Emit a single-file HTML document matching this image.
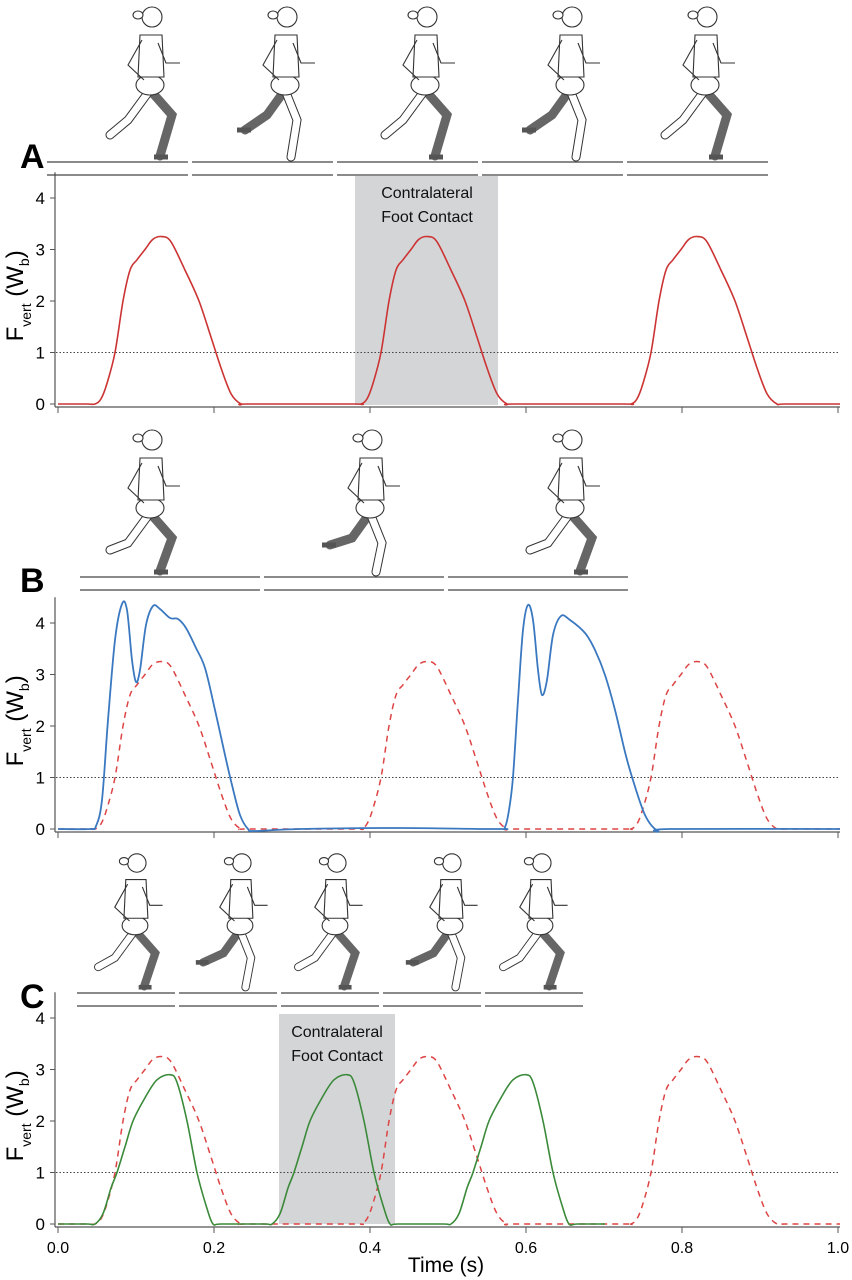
<!DOCTYPE html>
<html><head><meta charset="utf-8"><style>
body{margin:0;background:#fff}
svg{display:block;font-family:"Liberation Sans",Arial,sans-serif}
</style></head><body>
<svg id="s" width="852" height="1280" viewBox="0 0 852 1280">
<rect width="852" height="1280" fill="#fff"/>
<rect x="355" y="176" width="143" height="229" fill="#d4d5d7"/>
<rect x="279" y="1014" width="116" height="210" fill="#d4d5d7"/>
<text x="427" y="198" font-size="16" text-anchor="middle" fill="#111">Contralateral</text>
<text x="427" y="222" font-size="16" text-anchor="middle" fill="#111">Foot Contact</text>
<text x="337" y="1037" font-size="16" text-anchor="middle" fill="#111">Contralateral</text>
<text x="337" y="1061" font-size="16" text-anchor="middle" fill="#111">Foot Contact</text>
<text x="20" y="168" font-size="34" font-weight="bold">A</text>
<text x="20" y="592" font-size="34" font-weight="bold">B</text>
<text x="20" y="1008" font-size="34" font-weight="bold">C</text>
<g id="g"></g>
<text x="446" y="1272" font-size="21" text-anchor="middle">Time (s)</text>
</svg>
<script>
var g=document.getElementById('g'),h='';
function cr(p){var d='M'+p[0][0]+','+p[0][1];for(var i=0;i<p.length-1;i++){var a=p[i-1]||p[i],b=p[i],c=p[i+1],e=p[i+2]||c;
d+=' C'+(b[0]+(c[0]-a[0])/6).toFixed(1)+','+(b[1]+(c[1]-a[1])/6).toFixed(1)+' '+(c[0]-(e[0]-b[0])/6).toFixed(1)+','+(c[1]-(e[1]-b[1])/6).toFixed(1)+' '+c[0]+','+c[1];}return d;}
var X=function(t){return 58+780*t};
var panels=[{y0:404},{y0:829},{y0:1224}];
var U=51.5;
panels.forEach(function(P,k){
 var y0=P.y0;
 h+='<line x1="55" y1="'+(y0-4.5*U)+'" x2="55" y2="'+(y0+3)+'" stroke="#555" stroke-width="1.2"/>';
 h+='<line x1="55" y1="'+(y0+3)+'" x2="840" y2="'+(y0+3)+'" stroke="#555" stroke-width="1.2"/>';
 for(var v=0;v<=4;v++){var yy=y0-v*U;h+='<line x1="50" y1="'+yy+'" x2="55" y2="'+yy+'" stroke="#555"/><text x="45" y="'+(yy+6)+'" font-size="17" text-anchor="end">'+v+'</text>';}
 for(var t=0;t<=5;t++){var xx=X(t*0.2);h+='<line x1="'+xx+'" y1="'+(y0+3)+'" x2="'+xx+'" y2="'+(y0+9)+'" stroke="#555"/>';
  if(k==2)h+='<text x="'+xx+'" y="'+(y0+29)+'" font-size="16" text-anchor="middle">'+(t*0.2).toFixed(1)+'</text>';}
 h+='<line x1="56" y1="'+(y0-U)+'" x2="840" y2="'+(y0-U)+'" stroke="#444" stroke-width="1" stroke-dasharray="1.5,2"/>';
 var cy=y0-2.1*U;
 h+='<text transform="translate(23,'+cy+') rotate(-90)" font-size="24" text-anchor="middle">F<tspan font-size="14" dy="8">vert</tspan><tspan dy="-8"> (W</tspan><tspan font-size="14" dy="6">b</tspan><tspan dy="-6">)</tspan></text>';
});
var red=[[0,0],[6,0.1],[12,0.4],[20,1.0],[28,2.0],[35,2.6],[42,2.8],[50,3.0],[58,3.2],[67,3.25],[76,3.15],[90,2.6],[104,2.0],[116,1.3],[126,0.7],[136,0.2],[146,0]];
function pulses(shape,starts,y0,xend){var p=[[58,y0]];starts.forEach(function(s){p.push([s-8,y0]);shape.forEach(function(q){p.push([s+q[0],+(y0-q[1]*U).toFixed(1)])});p.push([s+shape[shape.length-1][0]+8,y0]);});p.push([xend,y0]);return p;}
var rs=[95,361,631];
h+='<path d="'+cr(pulses(red,rs,404,840))+'" fill="none" stroke="#cc3333" stroke-width="1.6"/>';
h+='<path d="'+cr(pulses(red,rs,829,840))+'" fill="none" stroke="#d44" stroke-width="1.5" stroke-dasharray="6,5"/>';
h+='<path d="'+cr(pulses(red,rs,1224,840))+'" fill="none" stroke="#d44" stroke-width="1.5" stroke-dasharray="6,5"/>';
var blue=[[58,829],[90,829],[96,826],[102,800],[108,720],[115,640],[122,604],[127,610],[132,660],[136,682],[140,670],[146,625],[153,606],[160,609],[170,618],[178,619],[186,628],[196,648],[205,668],[215,710],[225,755],[232,785],[240,815],[248,829],[255,831],[300,829],[400,828],[498,829],[505,827],[509,810],[513,777],[518,700],[523,630],[528,605],[533,620],[538,670],[542,695],[547,680],[553,635],[561,616],[570,620],[585,633],[595,650],[605,675],[615,710],[625,752],[632,777],[645,815],[658,831],[670,829],[840,829]];
h+='<path d="'+cr(blue)+'" fill="none" stroke="#3a78c0" stroke-width="1.8"/>';
var green=[[0,0],[8,0.2],[16,0.7],[22,1.0],[30,1.5],[38,2.0],[50,2.45],[62,2.8],[75,2.9],[82,2.75],[92,2.0],[102,1.0],[112,0.3],[118,0]];
h+='<path d="'+cr(pulses(green,[95,272,451],1224,605))+'" fill="none" stroke="#3a8a3a" stroke-width="1.6"/>';
function ground(y,x1,x2,n){var w=(x2-x1)/n;for(var i=0;i<n;i++){var a=x1+i*w+2,b=x1+(i+1)*w-2;h+='<line x1="'+a+'" y1="'+y+'" x2="'+b+'" y2="'+y+'" stroke="#444" stroke-width="1.2"/><line x1="'+a+'" y1="'+(y+13)+'" x2="'+b+'" y2="'+(y+13)+'" stroke="#444" stroke-width="1.2"/>';}}
ground(162,45,770,5);ground(577,78,630,3);ground(993,75,585,5);
function runner(cx,top,foot,sc,f){var s=sc;var hy=top+12*s;
 var hip=[cx,top+85*s];
 h+='<g stroke="#333" stroke-width="1.1" fill="#fff">';
 h+='<path d="M'+hip[0]+','+hip[1]+' L'+(cx+(f?22:-18)*s)+','+(top+110*s)+' L'+(cx+(f?10:-40)*s)+','+(foot-(f?4:30)*s)+'" fill="none" stroke="#666" stroke-width="'+(9*s)+'" stroke-linecap="round"/>';
 h+='<path d="M'+(cx+(f?4:-48)*s)+','+(foot-(f?3:30)*s)+' l'+(14*s)+',0" stroke="#555" stroke-width="'+(5*s)+'"/>';
 h+='<path d="M'+hip[0]+','+hip[1]+' L'+(cx+(f?-22:12)*s)+','+(top+115*s)+' L'+(cx+(f?-40:6)*s)+','+(foot-(f?25:3)*s)+'" fill="none" stroke="#333" stroke-width="'+(9*s)+'" stroke-linecap="round"/>';
 h+='<path d="M'+hip[0]+','+hip[1]+' L'+(cx+(f?-22:12)*s)+','+(top+115*s)+' L'+(cx+(f?-40:6)*s)+','+(foot-(f?25:3)*s)+'" fill="none" stroke="#fff" stroke-width="'+(7*s)+'" stroke-linecap="round"/>';
 h+='<ellipse cx="'+cx+'" cy="'+(top+80*s)+'" rx="'+(14*s)+'" ry="'+(10*s)+'"/>';
 h+='<path d="M'+(cx-10*s)+','+(top+30*s)+' L'+(cx+12*s)+','+(top+30*s)+' L'+(cx+14*s)+','+(top+72*s)+' L'+(cx-12*s)+','+(top+72*s)+'Z"/>';
 h+='<path d="M'+(cx-8*s)+','+(top+35*s)+' l'+(-14*s)+','+(25*s)+' l'+(16*s)+','+(15*s)+'" fill="none"/>';
 h+='<path d="M'+(cx+8*s)+','+(top+38*s)+' l'+(8*s)+','+(20*s)+' l'+(14*s)+',0" fill="none"/>';
 h+='<circle cx="'+(cx+2*s)+'" cy="'+hy+'" r="'+(10*s)+'"/><ellipse cx="'+(cx-12*s)+'" cy="'+(hy-2*s)+'" rx="'+(5*s)+'" ry="'+(4*s)+'"/>';
 h+='</g>';}
[150,285,425,570,705].forEach(function(c,i){runner(c,5,160,1,i%2==0)});
[150,370,570].forEach(function(c,i){runner(c,428,575,1,i%2==0)});
[135,240,335,450,540].forEach(function(c,i){runner(c,852,990,0.92,i%2==0)});
g.innerHTML=h;
</script>
</body></html>
